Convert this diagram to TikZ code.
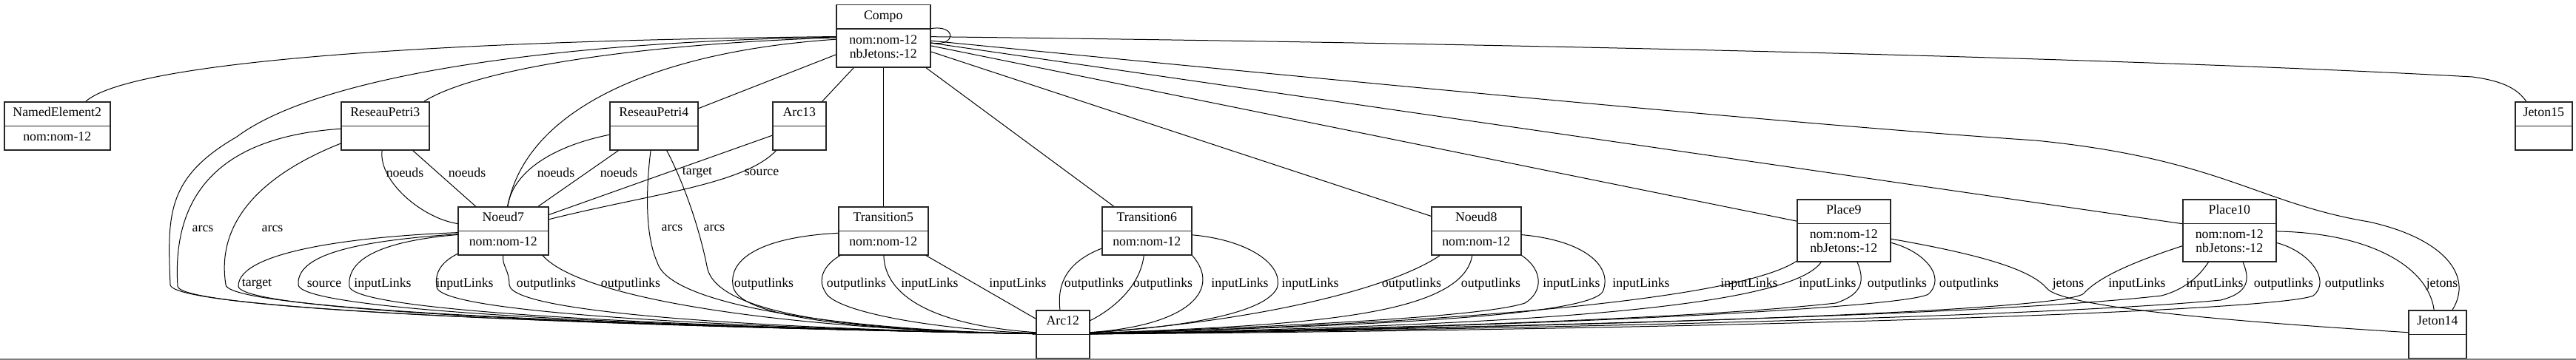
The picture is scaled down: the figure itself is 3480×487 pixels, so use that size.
\documentclass[tikz,border=0pt]{standalone}
\usepackage{fontspec}
\setmainfont{Liberation Serif}
\usetikzlibrary{shapes.multipart}
\tikzset{
  cls/.style={rectangle split, rectangle split parts=2, draw=black!85, line width=1.5pt, inner xsep=4pt, inner ysep=5.85pt, anchor=north west},
  lnk/.style={line width=1pt},
  lbl/.style={inner sep=0pt}
}
\newcommand{\twoattr}[2]{\begin{tabular}{@{}c@{}}#1\\#2\end{tabular}}

\begin{document}
\begin{tikzpicture}[x=1pt, y=-1pt, font=\fontsize{17.8}{19.3}\selectfont]
\useasboundingbox (0,0) rectangle (3480,487);
\node[cls, minimum width=127] (Compo) at (1129,6) {Compo\strut\nodepart{two}\twoattr{nom:nom-12}{nbJetons:-12}};
\node[cls, minimum width=143] (NamedElement2) at (5,137) {NamedElement2\strut\nodepart{two}\strut nom:nom-12};
\node[cls, minimum width=119] (ReseauPetri3) at (460,137) {ReseauPetri3\strut\nodepart{two}\strut};
\node[cls, minimum width=119] (ReseauPetri4) at (823,137) {ReseauPetri4\strut\nodepart{two}\strut};
\node[cls, minimum width=72] (Arc13) at (1043,137) {Arc13\strut\nodepart{two}\strut};
\node[cls, minimum width=77] (Jeton15) at (3397,137) {Jeton15\strut\nodepart{two}\strut};
\node[cls, minimum width=122] (Noeud7) at (618,279) {Noeud7\strut\nodepart{two}\strut nom:nom-12};
\node[cls, minimum width=121] (Transition5) at (1132,279) {Transition5\strut\nodepart{two}\strut nom:nom-12};
\node[cls, minimum width=121] (Transition6) at (1488,279) {Transition6\strut\nodepart{two}\strut nom:nom-12};
\node[cls, minimum width=121] (Noeud8) at (1933,279) {Noeud8\strut\nodepart{two}\strut nom:nom-12};
\node[cls, minimum width=126] (Place9) at (2427,269) {Place9\strut\nodepart{two}\twoattr{nom:nom-12}{nbJetons:-12}};
\node[cls, minimum width=126] (Place10) at (2948,269) {Place10\strut\nodepart{two}\twoattr{nom:nom-12}{nbJetons:-12}};
\node[cls, minimum width=72] (Arc12) at (1399,419) {Arc12\strut\nodepart{two}\strut};
\node[cls, minimum width=78] (Jeton14) at (3253,419) {Jeton14\strut\nodepart{two}\strut};

\draw[lnk] (Compo.9) .. controls +(35,-6) and +(35,6) .. (Compo.-8);
\draw[lnk] (Compo) .. controls (600,55) and (180,82) .. (NamedElement2);
\draw[lnk] (Compo) .. controls (700,58) and (420,110) .. (320,185) .. controls (225,240) and (226,290) .. (230,385) .. controls (231,428) and (1150,447) .. (Arc12);
\draw[lnk] (Compo) .. controls (850,60) and (640,95) .. (ReseauPetri3);
\draw[lnk] (Compo) .. controls (880,70) and (710,150) .. (Noeud7);
\draw[lnk] (Compo) -- (ReseauPetri4);
\draw[lnk] (Compo) -- (Arc13);
\draw[lnk] (Compo) -- (Transition5);
\draw[lnk] (Compo) -- (Transition6);
\draw[lnk] (Compo) -- (Noeud8);
\draw[lnk] (Compo) -- (Place9);
\draw[lnk] (Compo) -- (Place10);
\draw[lnk] (Compo) .. controls (1900,118) and (2450,170) .. (2750,190) .. controls (3000,215) and (3050,275) .. (3200,300) .. controls (3300,322) and (3342,372) .. (Jeton14);
\draw[lnk] (Compo) .. controls (2300,62) and (3000,85) .. (3340,104) .. controls (3385,110) and (3402,122) .. (Jeton15);

\draw[lnk] (ReseauPetri3) .. controls (511,245) and (570,295) .. (Noeud7);
\node[lbl] (noeudsA) at (547,233) {noeuds};
\draw[lnk] (ReseauPetri3) -- (Noeud7);
\node[lbl] (noeudsB) at (631,233) {noeuds};
\draw[lnk] (ReseauPetri3) .. controls (300,185) and (232,260) .. (240,387) .. controls (241,428) and (1150,447) .. (Arc12);
\node[lbl] (arcsA) at (274,309) {arcs};
\draw[lnk] (ReseauPetri3) .. controls (370,230) and (290,290) .. (305,385) .. controls (306,428) and (1150,447) .. (Arc12);
\node[lbl] (arcsB) at (368,309) {arcs};

\draw[lnk] (ReseauPetri4) .. controls (760,195) and (695,225) .. (Noeud7);
\node[lbl] (noeudsC) at (751,233) {noeuds};
\draw[lnk] (ReseauPetri4) -- (Noeud7);
\node[lbl] (noeudsD) at (836,233) {noeuds};
\draw[lnk] (ReseauPetri4) .. controls (872,260) and (872,320) .. (888,355) .. controls (905,415) and (1150,447) .. (Arc12);
\node[lbl] (arcsC) at (908,308) {arcs};
\draw[lnk] (ReseauPetri4) .. controls (925,250) and (945,310) .. (955,360) .. controls (965,425) and (1150,447) .. (Arc12);
\node[lbl] (arcsD) at (965,308) {arcs};

\draw[lnk] (Arc13) -- (Noeud7);
\node[lbl] (targetA) at (942,233) {target};
\draw[lnk] (Arc13) .. controls (1005,250) and (880,262) .. (Noeud7);
\node[lbl] (sourceA) at (1029,233) {source};

\draw[lnk] (Noeud7) .. controls (480,320) and (322,340) .. (322,387) .. controls (323,430) and (1150,447) .. (Arc12);
\node[lbl] (targetB) at (347,384) {target};
\draw[lnk] (Noeud7) .. controls (500,325) and (400,340) .. (403,385) .. controls (404,430) and (1150,447) .. (Arc12);
\node[lbl] (sourceB) at (438,384) {source};
\draw[lnk] (Noeud7) .. controls (530,325) and (468,345) .. (472,387) .. controls (473,430) and (1150,447) .. (Arc12);
\node[lbl] (inA) at (517,384) {inputLinks};
\draw[lnk] (Noeud7) .. controls (595,355) and (587,370) .. (590,388) .. controls (592,430) and (1150,447) .. (Arc12);
\node[lbl] (inB) at (628,384) {inputLinks};
\draw[lnk] (Noeud7.south) .. controls (678,360) and (688,365) .. (688,385) .. controls (689,430) and (1150,447) .. (Arc12);
\node[lbl] (outA) at (738,384) {outputlinks};
\draw[lnk] (Noeud7.-32) .. controls (790,410) and (1100,447) .. (Arc12);
\node[lbl] (outB) at (852,384) {outputlinks};

\draw[lnk] (Transition5) .. controls (1040,320) and (985,345) .. (990,385) .. controls (992,428) and (1150,447) .. (Arc12);
\node[lbl] (outC) at (1032,384) {outputlinks};
\draw[lnk] (Transition5) .. controls (1110,360) and (1105,380) .. (1115,395) .. controls (1125,420) and (1250,445) .. (Arc12);
\node[lbl] (outD) at (1157,384) {outputlinks};
\draw[lnk] (Transition5) .. controls (1195,400) and (1260,440) .. (Arc12);
\node[lbl] (inC) at (1256,384) {inputLinks};
\draw[lnk] (Transition5) -- (Arc12);
\node[lbl] (inD) at (1375,384) {inputLinks};

\draw[lnk] (Transition6) .. controls (1440,355) and (1428,385) .. (Arc12);
\node[lbl] (outE) at (1478,384) {outputlinks};
\draw[lnk] (Transition6) .. controls (1540,390) and (1500,420) .. (Arc12);
\node[lbl] (outF) at (1571,384) {outputlinks};
\draw[lnk] (Transition6.south east) .. controls (1650,390) and (1610,440) .. (Arc12);
\node[lbl] (inE) at (1675,384) {inputLinks};
\draw[lnk] (Transition6) .. controls (1690,325) and (1735,360) .. (1725,390) .. controls (1705,430) and (1560,445) .. (Arc12);
\node[lbl] (inF) at (1770,384) {inputLinks};

\draw[lnk] (Noeud8) .. controls (1880,390) and (1700,435) .. (Arc12);
\node[lbl] (outG) at (1907,384) {outputlinks};
\draw[lnk] (Noeud8) .. controls (1975,430) and (1750,440) .. (Arc12);
\node[lbl] (outH) at (2014,384) {outputlinks};
\draw[lnk] (Noeud8.south east) .. controls (2085,365) and (2085,395) .. (2060,410) .. controls (2000,430) and (1700,443) .. (Arc12);
\node[lbl] (inG) at (2123,384) {inputLinks};
\draw[lnk] (Noeud8) .. controls (2140,325) and (2180,360) .. (2165,395) .. controls (2140,430) and (1800,442) .. (Arc12);
\node[lbl] (inH) at (2217,384) {inputLinks};

\draw[lnk] (Place9) .. controls (2340,410) and (1900,440) .. (Arc12);
\node[lbl] (inI) at (2363,384) {inputLinks};
\draw[lnk] (Place9) .. controls (2410,425) and (1950,442) .. (Arc12);
\node[lbl] (inJ) at (2469,384) {inputLinks};
\draw[lnk] (Place9) .. controls (2522,385) and (2510,400) .. (2480,410) .. controls (2300,430) and (1900,445) .. (Arc12);
\node[lbl] (outI) at (2563,384) {outputlinks};
\draw[lnk] (Place9) .. controls (2600,340) and (2630,375) .. (2605,398) .. controls (2570,418) and (2000,445) .. (Arc12);
\node[lbl] (outJ) at (2660,384) {outputlinks};
\draw[lnk] (Place9) .. controls (2650,340) and (2740,360) .. (2765,390) .. controls (2790,420) and (3100,440) .. (Jeton14);
\node[lbl] (jetonsA) at (2794,384) {jetons};

\draw[lnk] (Place10) .. controls (2880,355) and (2835,375) .. (2815,397) .. controls (2790,420) and (2200,442) .. (Arc12);
\node[lbl] (inK) at (2887,384) {inputLinks};
\draw[lnk] (Place10) .. controls (2970,375) and (2950,392) .. (2920,400) .. controls (2700,425) and (2100,442) .. (Arc12);
\node[lbl] (inL) at (2992,384) {inputLinks};
\draw[lnk] (Place10) .. controls (3043,385) and (3030,398) .. (3000,406) .. controls (2800,425) and (2200,444) .. (Arc12);
\node[lbl] (outK) at (3085,384) {outputlinks};
\draw[lnk] (Place10) .. controls (3120,340) and (3150,380) .. (3125,400) .. controls (3080,420) and (2400,445) .. (Arc12);
\node[lbl] (outL) at (3181,384) {outputlinks};
\draw[lnk] (Place10) .. controls (3200,315) and (3280,360) .. (Jeton14);
\node[lbl] (jetonsB) at (3299,384) {jetons};

\draw[black!50, line width=1.5pt] (0,486) -- (3480,486);
\end{tikzpicture}
\end{document}
